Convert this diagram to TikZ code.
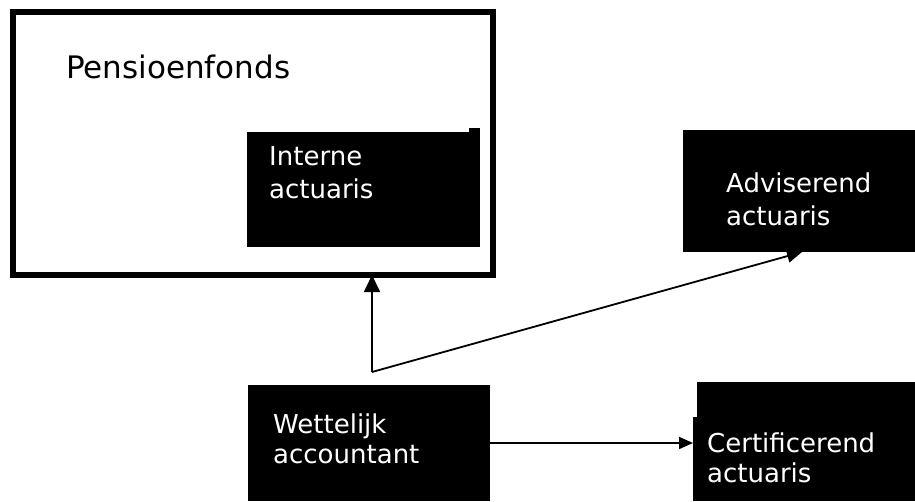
\documentclass[tikz,border=0pt]{standalone}
\usepackage{fontspec}
\setmainfont{DejaVu Sans}
\usetikzlibrary{arrows.meta}

\begin{document}
\begin{tikzpicture}[x=1pt,y=-1pt,
  box/.style={fill=black,draw=none,inner sep=0pt,outer sep=0pt,anchor=north west},
  boxtext/.style={text=white,anchor=base west,align=left,inner sep=0pt,
    font=\fontsize{26}{33}\selectfont},
  link/.style={line width=1.8pt,draw=black}]
  \fill[white] (0,0) rectangle (915,501);
  \useasboundingbox (0,0) rectangle (915,501);

  % pension fund frame
  \node[draw=black,line width=6pt,inner sep=0pt,outer sep=0pt,
        minimum width=480pt,minimum height=263pt,anchor=north west] (fund) at (13,12) {};
  \node[anchor=base west,inner sep=0pt,font=\fontsize{31}{37}\selectfont] (fundtxt) at (66,78) {Pensioenfonds};

  % internal actuary (text anchored on the baseline of its last line)
  \node[box,minimum width=233pt,minimum height=115pt] (intern) at (247,132) {};
  \fill[black] (469,128) rectangle (480,132.5);
  \node[boxtext] (interntxt) at (269,198) {Interne\\actuaris};

  % advising actuary
  \node[box,minimum width=232pt,minimum height=122pt] (advis) at (683,130) {};
  \node[boxtext] (advistxt) at (726,225) {Adviserend\\actuaris};

  % statutory accountant
  \node[box,minimum width=242pt,minimum height=116pt] (wett) at (248,385) {};
  \node[boxtext,font=\fontsize{26}{30}\selectfont] (wetttxt) at (273,463) {Wettelijk\\accountant};

  % certifying actuary
  \node[box,minimum width=222pt,minimum height=84pt] (cert) at (693,417) {};
  \fill[black] (697,382) rectangle (915,417.5);
  \node[boxtext,font=\fontsize{26}{30}\selectfont] (certtxt) at (707,482) {Certificerend\\actuaris};

  % connectors
  \coordinate (bend) at (372,372);
  \draw[link,-{Triangle[length=17pt,width=16pt]}] (bend) -- (bend |- fund.south);
  \draw[link,-{Triangle[length=15pt,width=13pt]}] (bend) -- ([xshift=3pt]advis.south);
  \draw[link,-{Triangle[length=14pt,width=12pt]}] (wett.east) -- (wett.east -| cert.west);
\end{tikzpicture}
\end{document}
